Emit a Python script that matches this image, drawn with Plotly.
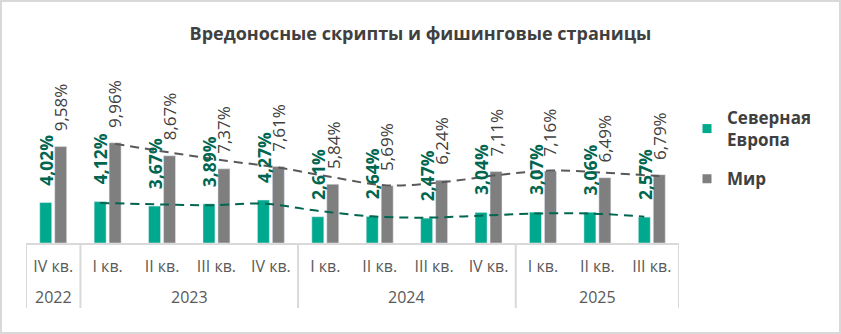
import plotly.graph_objects as go

# Quarterly share of malicious scripts and phishing pages
years = ["2022", "2023", "2023", "2023", "2023", "2024", "2024", "2024", "2024", "2025", "2025", "2025"]
quarters = ["IV кв.", "I кв.", "II кв.", "III кв.", "IV кв.", "I кв.", "II кв.", "III кв.", "IV кв.",
            "I кв.", "II кв.", "III кв."]
north_europe = [4.02, 4.12, 3.67, 3.89, 4.27, 2.61, 2.64, 2.47, 3.04, 3.07, 3.06, 2.57]
world = [9.58, 9.96, 8.67, 7.37, 7.61, 5.84, 5.69, 6.24, 7.11, 7.16, 6.49, 6.79]

# Trend lines, starting from I кв. 2023
trend_start = 1
north_trend = [3.98, 3.85, 3.75, 3.90, 3.20, 2.65, 2.52, 2.72, 2.93, 2.93, 2.62]
world_trend = [9.85, 9.00, 8.20, 7.50, 6.53, 5.72, 6.03, 6.73, 7.20, 6.98, 6.65]

GREEN = "#00A88E"
GREEN_DARK = "#00664F"
GREY = "#7F7F7F"
GREY_DARK = "#595959"
TEXT = "#404040"
AXIS = "#D9D9D9"
FONT = "Open Sans"

W, H = 841, 334
M_L, M_R, M_T, M_B = 26, 162, 82, 91
BARGAP, GROUPGAP = 0.45, 0.2
offset = (1 - BARGAP) / 4  # half-distance between the two bars in a group

n = len(quarters)
idx = list(range(n))
pw = W - M_L - M_R
ph = H - M_T - M_B

fig = go.Figure()

fig.add_trace(go.Bar(x=idx, y=north_europe, name="Северная<br>Европа",
                     marker_color=GREEN, showlegend=False, hoverinfo="y"))
fig.add_trace(go.Bar(x=idx, y=world, name="Мир",
                     marker_color=GREY, showlegend=False, hoverinfo="y"))

# dashed trend lines
tx = idx[trend_start:]
fig.add_trace(go.Scatter(
    x=[i - offset for i in tx], y=north_trend, mode="lines",
    line=dict(color=GREEN_DARK, width=2, dash="9px,6px", shape="spline"),
    showlegend=False, hoverinfo="skip",
))
fig.add_trace(go.Scatter(
    x=[i + offset for i in tx], y=world_trend, mode="lines",
    line=dict(color=GREY_DARK, width=2, dash="9px,6px", shape="spline"),
    showlegend=False, hoverinfo="skip",
))

# legend entries
fig.add_trace(go.Scatter(x=[None], y=[None], mode="markers", name="Северная<br>Европа",
                         marker=dict(symbol="square", size=9, color=GREEN), legendgroup="a"))
fig.add_trace(go.Scatter(x=[None], y=[None], mode="markers", name="Мир",
                         marker=dict(symbol="square", size=9, color=GREY), legendgroup="b"))


def fmt(v):
    return f"{v:.2f}".replace(".", ",") + "%"


annotations = []
for i in idx:
    annotations.append(dict(
        x=i - offset, y=north_europe[i], xref="x", yref="y", text=fmt(north_europe[i]),
        textangle=-90, showarrow=False, xanchor="center", yanchor="bottom", yshift=15,
        font=dict(family=FONT, size=17.5, color=GREEN_DARK, weight="bold"),
    ))
    annotations.append(dict(
        x=i + offset, y=world[i], xref="x", yref="y", text=fmt(world[i]),
        textangle=-90, showarrow=False, xanchor="center", yanchor="bottom", yshift=13,
        font=dict(family=FONT, size=17, color=TEXT),
    ))

# year row and group dividers under the quarter labels
shapes = []
year_row_y = -(297 - (H - M_B)) / ph
divider_bottom = -(308 - (H - M_B)) / ph
groups = []
for i, y in enumerate(years):
    if not groups or groups[-1][0] != y:
        groups.append([y, i, i])
    else:
        groups[-1][2] = i
for y, a, b in groups:
    annotations.append(dict(
        x=(a + b) / 2, y=year_row_y, xref="x", yref="paper", text=y, showarrow=False,
        xanchor="center", yanchor="middle",
        font=dict(family=FONT, size=16, color=GREY_DARK),
    ))
edges = [groups[0][1] - 0.5] + [b + 0.5 for _, _, b in groups]
for e in edges:
    shapes.append(dict(type="line", xref="x", yref="paper", x0=e, x1=e, y0=0, y1=divider_bottom,
                       line=dict(color=AXIS, width=2)))

# outer frame
shapes.append(dict(
    type="rect", xref="paper", yref="paper",
    x0=(1 - M_L) / pw, x1=(W - 1 - M_L) / pw,
    y0=-(M_B - 1) / ph, y1=(H - M_B - 1) / ph,
    line=dict(color=AXIS, width=2), fillcolor="rgba(0,0,0,0)",
))

fig.update_layout(
    width=W, height=H,
    margin=dict(l=M_L, r=M_R, t=M_T, b=M_B),
    paper_bgcolor="white", plot_bgcolor="white",
    barmode="group", bargap=BARGAP, bargroupgap=GROUPGAP,
    title=dict(
        text="<b>Вредоносные скрипты и фишинговые страницы</b>",
        x=0.5, xref="container", xanchor="center",
        y=1 - 34 / H, yref="container", yanchor="middle",
        font=dict(family=FONT, size=18, color=TEXT),
    ),
    font=dict(family=FONT, color=TEXT),
    xaxis=dict(
        range=[-0.5, n - 0.5], tickmode="array", tickvals=idx, ticktext=quarters,
        showline=True, linecolor=AXIS, linewidth=2,
        ticks="outside", ticklen=8, tickcolor="rgba(0,0,0,0)",
        showgrid=False, zeroline=False,
        tickfont=dict(family=FONT, size=16, color=GREY_DARK),
    ),
    yaxis=dict(range=[0, 16], visible=False, showgrid=False, zeroline=False),
    legend=dict(
        x=(687 - M_L) / pw, xanchor="left",
        y=(H - M_B - 100) / ph, yanchor="top",
        font=dict(family=FONT, size=17, color=TEXT, weight="bold"),
        tracegroupgap=14, bgcolor="rgba(0,0,0,0)",
    ),
    annotations=annotations,
    shapes=shapes,
)

fig.write_html("out.html")
